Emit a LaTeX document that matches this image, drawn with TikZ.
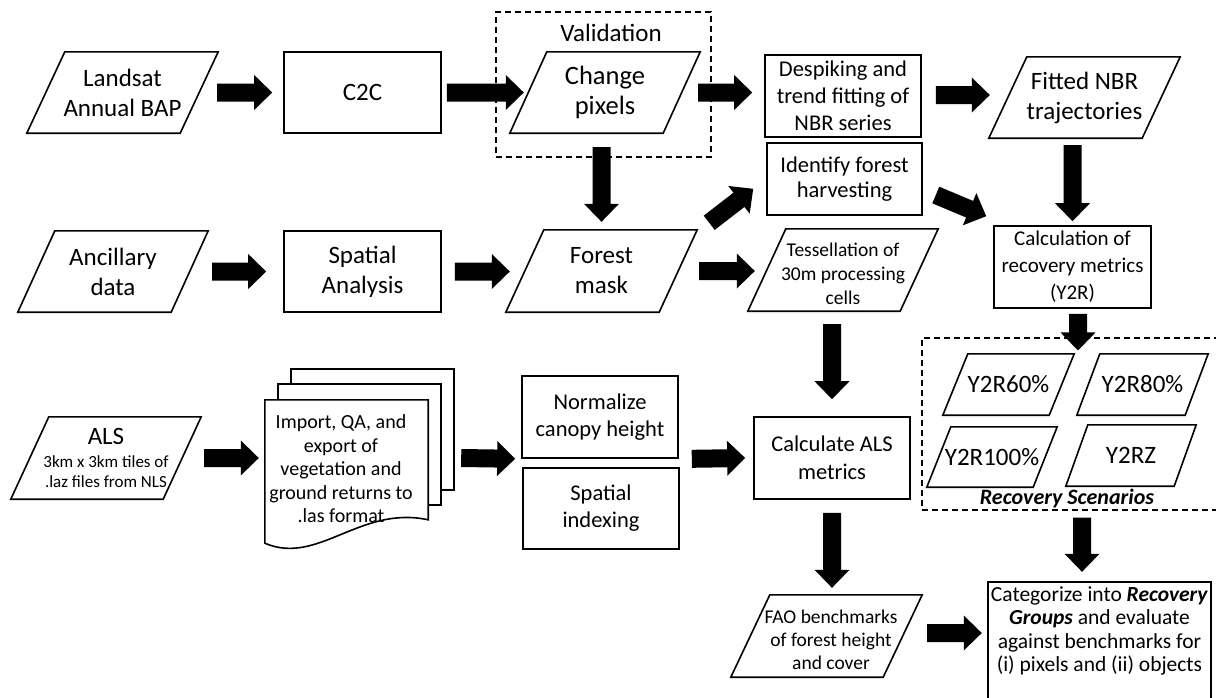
\documentclass[tikz,border=0pt]{standalone}
\usepackage{fontspec}
\setmainfont{Carlito}
\usetikzlibrary{calc}
\newcommand\blockarrow[2]{%
  \coordinate (ba-s) at (#1);
  \coordinate (ba-e) at (#2);
  \coordinate (ba-h) at ($(ba-e)!18pt!(ba-s)$);
  \fill ($(ba-s)!9pt!90:(ba-e)$) -- ($(ba-h)!9pt!90:(ba-e)$) -- ($(ba-h)!17.5pt!90:(ba-e)$) -- (ba-e) -- ($(ba-h)!17.5pt!-90:(ba-e)$) -- ($(ba-h)!9pt!-90:(ba-e)$) -- ($(ba-s)!9pt!-90:(ba-e)$) -- cycle;}
\newcommand\para[2]{\draw[ln] ([xshift=#2]#1.north west) -- (#1.north east) -- ([xshift=-#2]#1.south east) -- (#1.south west) -- cycle;}
\tikzset{
  ln/.style={line width=1.6pt, line join=miter},
  dsh/.style={line width=1.1pt, dash pattern=on 6pt off 4pt},
  box/.style={draw, ln, inner sep=0pt, align=center},
  pbox/.style={inner sep=0pt, align=center},
  sz/.style n args={2}{minimum width=#1pt, minimum height=#2pt},
  fA/.style={font=\fontsize{25pt}{30pt}\selectfont},
  fB/.style={font=\fontsize{22.5pt}{27pt}\selectfont},
  fC/.style={font=\fontsize{20pt}{23.5pt}\selectfont},
  fD/.style={font=\fontsize{19.5pt}{24pt}\selectfont},
  fE/.style={font=\fontsize{21.5pt}{23.5pt}\selectfont},
}
\begin{document}
\begin{tikzpicture}[x=1pt,y=-1pt]
\useasboundingbox (0,0) rectangle (1216,697);
% frames
\node[draw, dsh, sz={215}{145}] (valid) at (603.5,84.5) {};
\node[fA] (validlabel) at (611,33) {Validation};
\node[draw, dsh, sz={308}{172}] (scen) at (1076,424) {};
% row 1
\node[pbox, fA, sz={191}{81}] (landsat) at (122.5,92.5) {Landsat\\Annual BAP};
\para{landsat}{38pt}
\node[box, fA, sz={157}{81}] (c2c) at (362.5,92.5) {C2C};
\node[pbox, font=\fontsize{26.5pt}{30pt}\selectfont, sz={190}{81}] (change) at (605,92.5) {Change\\pixels};
\para{change}{37pt}
\node[box, fB, sz={156}{82}] (despike) at (843,96) {Despiking and\\trend fitting of\\NBR series};
\node[box, font=\fontsize{22.5pt}{25pt}\selectfont, sz={155}{72}] (identify) at (844.5,179) {Identify forest\\harvesting};
\node[pbox, fA, sz={191}{81}] (fitted) at (1084.5,97.5) {Fitted NBR\\trajectories};
\para{fitted}{38pt}
\node[box, font=\fontsize{21pt}{27pt}\selectfont, sz={157}{82}] (calc) at (1072.5,267) {Calculation of\\recovery metrics\\(Y2R)};
% row 2
\node[pbox, fA, sz={190}{81}] (ancillary) at (113,271.5) {Ancillary\\data};
\para{ancillary}{37pt}
\node[box, fA, sz={157}{81}] (spatial) at (362.5,271.5) {Spatial\\Analysis};
\node[pbox, fA, sz={191}{82}] (forest) at (601.5,271) {Forest\\mask};
\para{forest}{38pt}
\node[pbox, sz={190}{82}] (tess) at (843,270) {};
\para{tess}{38pt}
\node[pbox, fD] (tesstext) at (843,273.5) {Tessellation of\\30m processing\\cells};
% scenarios
\node[pbox, fA, sz={131}{61}] (y60) at (1008.5,384.5) {Y2R60\%};
\para{y60}{25pt}
\node[pbox, fA, sz={131}{61}] (y80) at (1142.5,384.5) {Y2R80\%};
\para{y80}{23pt}
\node[pbox, fA, sz={130}{60}] (y100) at (992,457) {Y2R100\%};
\para{y100}{24pt}
\node[pbox, fA, sz={130}{61}] (yz) at (1131,455.5) {Y2RZ};
\para{yz}{22pt}
\node[font=\fontsize{22pt}{26pt}\selectfont\bfseries\itshape, inner sep=0pt] (reclabel) at (1067,499) {Recovery Scenarios};
% row 3
\node[pbox, font=\fontsize{17pt}{20pt}\selectfont, sz={190}{82}] (als) at (106,458) {{\fontsize{25pt}{28pt}\selectfont ALS}\\[3pt]3km x 3km tiles of\\.laz files from NLS};
\para{als}{38pt}
\draw[ln, fill=white] (291,369) rectangle (454,490);
\draw[ln, fill=white] (278,384) rectangle (441,505);
\node[pbox, sz={163}{143}] (import) at (346.5,471.5) {};
\draw[ln, fill=white] (import.south west) -- (import.north west) -- (import.north east) -- ($(import.north east)+(0,120)$) .. controls (360,505) and (318,566) .. (import.south west) -- cycle;
\node[pbox, fC, inner sep=0pt] (importtext) at (341,469) {Import, QA, and\\export of\\vegetation and\\ground returns to\\.las format};
\node[box, fB, sz={156}{82}] (normalize) at (600,417) {Normalize\\canopy height};
\node[box, fB, sz={156}{81}] (spidx) at (601,508.5) {Spatial\\indexing};
\node[box, font=\fontsize{22.5pt}{28pt}\selectfont, sz={156}{82}] (calcals) at (832,458) {Calculate ALS\\metrics};
% row 4
\node[pbox, sz={191}{82}] (fao) at (826.5,636) {};
\para{fao}{39pt}
\node[pbox, font=\fontsize{19.5pt}{23pt}\selectfont] (faotext) at (831,640) {FAO benchmarks\\of forest height\\and cover};
\node[pbox, fE, sz={223}{98}] (cat) at (1099.5,631) {Categorize into \textbf{\textit{Recovery}}\\\textbf{\textit{Groups}} and evaluate\\against benchmarks for\\(i) pixels and (ii) objects};
\draw[ln] ($(cat.south west)+(0,30)$) -- (cat.north west) -- (cat.north east) -- ($(cat.south east)+(0,30)$);
% block arrows
\blockarrow{$(landsat.east)+(-1,0)$}{$(c2c.west)+(-11,0)$}
\blockarrow{$(c2c.east)+(5,0)$}{$(change.west)+(14,0)$}
\blockarrow{$(change.east)+(-2,0)$}{$(despike.west |- change.east)+(-12,0)$}
\blockarrow{$(despike.east)+(14,-1)$}{$(fitted.west |- despike.east)+(1,-1)$}
\blockarrow{$(calc.north |- fitted.south)+(0,7)$}{$(calc.north)+(0,-4)$}
\blockarrow{$(forest.north |- change.south)+(0,14)$}{$(forest.north)+(0,-8)$}
\blockarrow{$(ancillary.east)+(4,0)$}{$(spatial.west)+(-17,0)$}
\blockarrow{$(spatial.east)+(13,0)$}{$(forest.west |- spatial.east)+(4,0)$}
\blockarrow{$(forest.north east)+(12,-7)$}{$(identify.south west)+(-13,-27)$}
\blockarrow{$(forest.east)+(2,0)$}{$(tess.west |- forest.east)+(7,0)$}
\blockarrow{$(identify.east)+(13,16)$}{$(calc.north west)+(-7,-9)$}
\blockarrow{$(calc.south)+(5.5,5)$}{$(scen.north)+(2,13)$}
\blockarrow{$(calcals.north |- tess.south)+(0,13)$}{$(calcals.north)+(0,-17)$}
\blockarrow{$(als.east)+(3,0)$}{$(import.west |- als.east)+(-6,0)$}
\blockarrow{$(import.east |- als.east)+(33,0)$}{$(normalize.south west)+(-6,0)$}
\blockarrow{$(normalize.south east)+(13,0)$}{$(calcals.west)+(-8,0)$}
\blockarrow{$(calcals.south)+(0,13)$}{$(calcals.south |- fao.north)+(0,-7)$}
\blockarrow{$(cat.north |- scen.south)+(-17.5,7)$}{$(cat.north)+(-17.5,-10)$}
\blockarrow{$(fao.east)+(5,-3)$}{$(cat.west |- fao.east)+(-6,-3)$}
\end{tikzpicture}
\end{document}
